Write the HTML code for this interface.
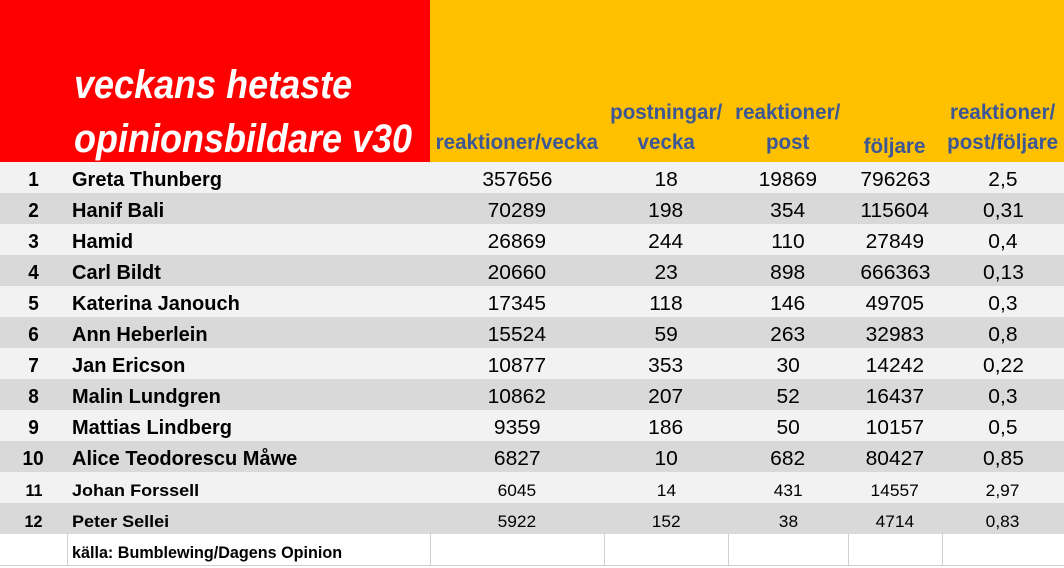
<!DOCTYPE html>
<html><head><meta charset="utf-8"><style>
body{margin:0;width:1064px;height:566px;overflow:hidden;background:#fff;font-family:"Liberation Sans",Arial,sans-serif;position:relative}
.a{position:absolute}
.t{position:absolute;white-space:nowrap;text-align:center}
.t span{display:inline-block;transform:scaleX(.84);transform-origin:center}
.l span{transform-origin:left}
.h{color:#3b5796;font-weight:bold;font-size:21px;line-height:30px}
.h span{transform:scaleX(.98)}
.r{font-size:20px;line-height:31px;color:#000}
</style></head><body>
<div class="a" style="left:0;top:0;width:430px;height:162px;background:#ff0000"></div>
<div class="a" style="left:430px;top:0;width:634px;height:162px;background:#ffc000"></div>
<div class="t l" style="left:74px;top:58px;color:#fff;font-weight:bold;font-style:italic;font-size:40px;line-height:54px;text-align:left"><span style="transform:scaleX(.9)">veckans hetaste<br>opinionsbildare v30</span></div>
<div class="t h" style="left:430px;width:174px;top:128px"><span>reaktioner/vecka</span></div>
<div class="t h" style="left:604px;width:124px;top:98px"><span>postningar/<br>vecka</span></div>
<div class="t h" style="left:728px;width:120px;top:98px"><span>reaktioner/<br>post</span></div>
<div class="t h" style="left:848px;width:94px;top:132px"><span>följare</span></div>
<div class="t h" style="left:942px;width:122px;top:98px"><span>reaktioner/<br>post/följare</span></div>
<div id="rows"></div>
<div class="a" style="left:0;top:534px;width:1064px;height:31px;border-bottom:1px solid #d0d0d0"></div>
<div class="a" style="left:67px;top:534px;height:32px;border-left:1px solid #d0d0d0"></div>
<div class="a" style="left:430px;top:534px;height:32px;border-left:1px solid #d0d0d0"></div>
<div class="a" style="left:604px;top:534px;height:32px;border-left:1px solid #d0d0d0"></div>
<div class="a" style="left:728px;top:534px;height:32px;border-left:1px solid #d0d0d0"></div>
<div class="a" style="left:848px;top:534px;height:32px;border-left:1px solid #d0d0d0"></div>
<div class="a" style="left:942px;top:534px;height:32px;border-left:1px solid #d0d0d0"></div>
<div class="t l" style="left:72px;top:537px;font-size:17px;font-weight:bold;line-height:31px;text-align:left"><span style="transform:scaleX(.95)">källa: Bumblewing/Dagens Opinion</span></div>
<script>
var d=[["1","Greta Thunberg","357656","18","19869","796263","2,5"],["2","Hanif Bali","70289","198","354","115604","0,31"],["3","Hamid","26869","244","110","27849","0,4"],["4","Carl Bildt","20660","23","898","666363","0,13"],["5","Katerina Janouch","17345","118","146","49705","0,3"],["6","Ann Heberlein","15524","59","263","32983","0,8"],["7","Jan Ericson","10877","353","30","14242","0,22"],["8","Malin Lundgren","10862","207","52","16437","0,3"],["9","Mattias Lindberg","9359","186","50","10157","0,5"],["10","Alice Teodorescu Måwe","6827","10","682","80427","0,85"],["11","Johan Forssell","6045","14","431","14557","2,97"],["12","Peter Sellei","5922","152","38","4714","0,83"]];
var cols=[[430,174],[604,124],[728,120],[848,94],[942,122]];var h="";
d.forEach(function(r,i){var y=162+i*31+3;var small=i>=10;var fs=small?17:20;
var ns=small?1.06:1.0, vs=small?1.02:1.05;
h+='<div class="a" style="left:0;top:'+(y-3)+'px;width:1064px;height:31px;background:'+(i%2?'#d9d9d9':'#f2f2f2')+'"></div>';
h+='<div class="t r" style="left:0;width:67px;top:'+y+'px;font-weight:bold;font-size:'+fs+'px"><span style="transform:scaleX(.95)">'+r[0]+'</span></div>';
h+='<div class="t r l" style="left:72px;top:'+y+'px;font-weight:bold;text-align:left;font-size:'+fs+'px"><span style="transform:scaleX('+ns+')">'+r[1]+'</span></div>';
for(var c=0;c<5;c++)h+='<div class="t r" style="left:'+cols[c][0]+'px;width:'+cols[c][1]+'px;top:'+y+'px;font-size:'+fs+'px"><span style="transform:scaleX('+vs+')">'+r[c+2]+'</span></div>';});
document.getElementById("rows").innerHTML=h;
</script>
</body></html>
